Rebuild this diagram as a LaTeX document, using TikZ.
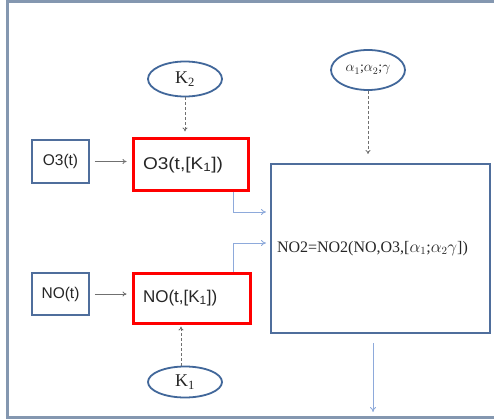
\documentclass[tikz,border=0pt]{standalone}
\usepackage{fontspec}
\setmainfont{Liberation Serif}
\setsansfont{Liberation Sans}
\usetikzlibrary{arrows.meta,shapes.geometric}
\definecolor{frameblue}{HTML}{8497B0}
\definecolor{boxblue}{HTML}{4F6E9C}
\definecolor{ellblue}{HTML}{41679A}
\definecolor{linkblue}{HTML}{8EAADB}
\definecolor{txt}{HTML}{262626}
\definecolor{arrgray}{HTML}{707070}
\tikzset{
  inbox/.style={draw=boxblue, line width=1.6pt, rectangle, minimum width=57pt, minimum height=42pt, inner sep=0pt, font=\sffamily\fontsize{15.5}{17}\selectfont, text=txt},
  redbox/.style={draw=red, line width=3pt, rectangle, inner xsep=10pt, inner ysep=0pt, align=left, font=\sffamily\fontsize{17}{19}\selectfont, text=txt},
  param/.style={draw=ellblue, line width=1.8pt, ellipse, minimum width=74pt, inner sep=0pt, font=\fontsize{18}{20}\selectfont, text=txt},
  bigbox/.style={draw=boxblue, line width=2pt, rectangle, minimum width=219pt, minimum height=169pt, inner xsep=6pt, align=left, font=\fontsize{16}{18}\selectfont, text=txt},
  grayarrow/.style={draw=arrgray, line width=0.8pt, -{To[length=4pt,width=5pt]}},
  dasharrow/.style={draw=arrgray, line width=0.8pt, dashed, dash pattern=on 3pt off 2pt, -{To[length=4pt,width=5pt]}},
  bluearrow/.style={draw=linkblue, line width=0.9pt, -{To[length=5pt,width=6pt]}}
}
\begin{document}
\begin{tikzpicture}[x=1pt,y=-1pt]
\useasboundingbox (0,0) rectangle (494,419);
\fill[white] (0,0) rectangle (494,419);
\draw[frameblue, line width=3pt] (7,2) rectangle (520,417);

\node[inbox, minimum height=43pt] (o3t) at (60.5,161.5) {O3(t)};
\node[redbox, text width=95pt, minimum height=52pt] (o3k) at (190.5,165) {\scalebox{1.12}[1]{O3(t,[K\textsubscript{1}])}};
\node[inbox] (not) at (60.5,294) {NO(t)};
\node[redbox, text width=97pt, minimum height=50pt] (nok) at (191.5,298) {NO(t,[K\textsubscript{1}])};
\node[bigbox, text width=207pt] (big) at (380.5,248.5) {NO2=NO2(NO,O3,[$\alpha_1$;$\alpha_2\gamma$])\\[10pt]};

\node[param, minimum height=35pt] (k2) at (185,79) {K\textsubscript{2}};
\node[param, minimum height=40pt, font=\fontsize{14}{16}\selectfont] (al) at (368,70) {$\alpha_1$;$\alpha_2$;$\gamma$};
\node[param, minimum height=31pt] (k1) at (185,382) {K\textsubscript{1}};
\coordinate (out) at (373,412);

\draw[grayarrow, shorten <=5pt, shorten >=5pt] (o3t.east) -- (o3t.east -| o3k.west);
\draw[grayarrow, shorten <=5pt, shorten >=5pt] (not.east) -- (not.east -| nok.west);
\draw[dasharrow, shorten >=6pt] (k2.south) -- (k2.south |- o3k.north);
\draw[dasharrow, shorten >=9pt] (al.south) -- (al.south |- big.north);
\draw[dasharrow, shorten >=2pt] ([xshift=-4pt]k1.north) -- ([xshift=-4pt]k1.north |- nok.south);
\draw[bluearrow, shorten >=4pt] ([xshift=42.5pt]o3k.south) |- ([yshift=36.5pt]big.west);
\draw[bluearrow, shorten >=4pt] ([xshift=41.5pt]nok.north) |- ([yshift=5.5pt]big.west);
\draw[bluearrow, shorten <=9pt] ([xshift=-7.5pt]big.south) -- (out);
\end{tikzpicture}
\end{document}
